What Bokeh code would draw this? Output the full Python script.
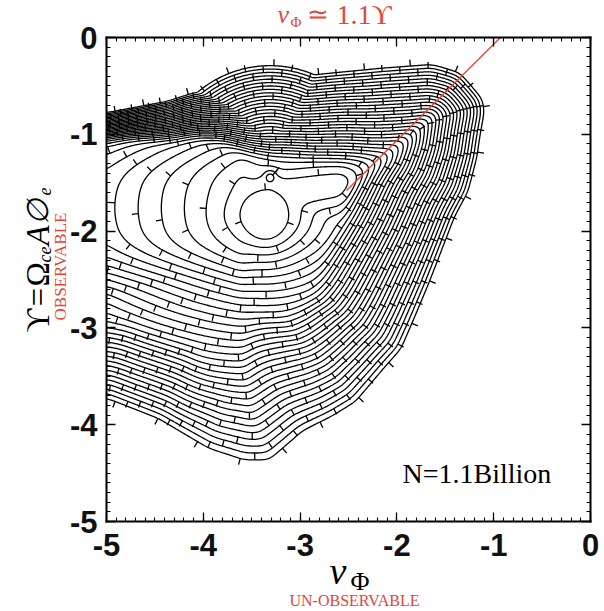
import numpy as np
import contourpy
from bokeh.plotting import figure
from bokeh.models import Range1d, Label, SingleIntervalTicker, LinearAxis
from bokeh.embed import file_html
from bokeh.resources import INLINE

# ---------------- values ----------------
# outermost contour of the distribution (nu_Phi, Upsilon)
edge_x = [-6.00, -5.00, -4.37, -4.13, -3.44, -2.76, -2.16, -1.63, -1.34, -1.21, -1.10, -1.08,
          -1.12, -1.16, -1.25, -1.39, -1.52, -1.65, -1.80, -1.94, -2.10, -2.41, -2.65,
          -2.96, -3.07, -3.31, -3.58, -3.96, -4.47, -5.00, -6.00]
edge_y = [-0.95, -0.77, -0.65, -0.57, -0.44, -0.36, -0.30, -0.26, -0.35, -0.50, -0.63, -0.77,
          -0.98, -1.25, -1.60, -1.86, -2.20, -2.54, -2.90, -3.23, -3.41, -3.78, -3.93,
          -4.09, -4.19, -4.40, -4.40, -4.27, -3.96, -3.75, -3.55]
# contour lines per unit just inside that edge
edge_k = [75, 75, 62, 52, 36, 32, 29, 28, 30, 30, 30, 30,
          30, 30, 28, 28, 27, 25, 24, 22, 21, 19, 18,
          16, 15, 14, 14, 16, 20, 21, 21]
# interior maxima (bean-shaped top contour and the small circle above it)
peak_x = [-3.36, -3.31]
peak_y = [-1.84, -1.45]
peak_hx = [0.19, 0.025]
peak_hy = [0.22, 0.025]
peak_top = [33.0, 32.9]
peak_sl = [0.15, 0.035]   # spacing of levels to the left
peak_sr = [0.12, 0.035]   # ... to the right
peak_su = [0.10, 0.035]   # ... upwards
peak_sd = [0.075, 0.035]  # ... downwards
# ridge running from the peak towards the upper right
ridge_x = [-3.25, -2.60]
ridge_y = [-1.62, -1.52]
ridge_top = [31.9, 31.75]
ridge_core = 0.12
ridge_w = 0.08
# shelf to the left of the peak (the tall "(" shaped contours)
shelf_x0, shelf_y, shelf_top = -3.60, -1.78, 32.0
shelf_dx = 0.24          # level spacing towards the left
shelf_dx_right = 0.30    # level spacing towards the right
shelf_half = 0.42        # half height of the flat part
shelf_up, shelf_down = 0.10, 0.065
n_levels = 33
# red reference line  nu_Phi ~ 1.1 Upsilon
red_x = [-2.52, -0.93]
red_y = [-1.58, 0.00]
x_ticks = [-5, -4, -3, -2, -1, 0]
y_ticks = [-5, -4, -3, -2, -1, 0]

RED = "#e5453a"
EX = np.array(edge_x, float)
EY = np.array(edge_y, float)
EK = np.array(edge_k, float)


def inside_poly(x, y):
    inside = np.zeros(x.shape, bool)
    n = len(EX)
    j = n - 1
    for i in range(n):
        xi, yi, xj, yj = EX[i], EY[i], EX[j], EY[j]
        cond = (yi > y) != (yj > y)
        den = (yj - yi) if yj != yi else 1e-12
        xint = (xj - xi) * (y - yi) / den + xi
        inside ^= cond & (x < xint)
        j = i
    return inside


def seg_geom(i, x, y):
    n = len(EX)
    j = (i + 1) % n
    ax, ay, bx, by = EX[i], EY[i], EX[j], EY[j]
    vx, vy = bx - ax, by - ay
    t = np.clip(((x - ax) * vx + (y - ay) * vy) / (vx * vx + vy * vy), 0, 1)
    d = np.hypot(x - (ax + t * vx), y - (ay + t * vy))
    k = EK[i] + t * (EK[j] - EK[i])
    return d, k


def edge_term(x, y):
    n = len(EX)
    dmin = np.full(x.shape, np.inf)
    for i in range(n):
        d, _ = seg_geom(i, x, y)
        dmin = np.minimum(dmin, d)
    ws = np.zeros(x.shape)
    wk = np.zeros(x.shape)
    for i in range(n):
        d, k = seg_geom(i, x, y)
        w = np.exp(-(d - dmin) / 0.08)
        ws += w
        wk += w * k
    kk = wk / ws
    sd = np.where(inside_poly(x, y), dmin, -dmin)
    return kk * sd


def softplus(v, s):
    return s * np.logaddexp(0.0, v / s)


def bump(i, x, y):
    dx = x - peak_x[i]
    dy = y - peak_y[i]
    q = np.hypot(dx / peak_hx[i], dy / peak_hy[i])
    f = np.where(q > 1, 1 - 1 / np.maximum(q, 1e-9), 0.0)
    ox = dx * f / np.where(dx < 0, peak_sl[i], peak_sr[i])
    oy = dy * f / np.where(dy > 0, peak_su[i], peak_sd[i])
    return peak_top[i] - np.hypot(ox, oy)


def interior(x, y):
    parts = [bump(i, x, y) for i in range(len(peak_x))]
    ax, ay, bx, by = ridge_x[0], ridge_y[0], ridge_x[1], ridge_y[1]
    vx, vy = bx - ax, by - ay
    L2 = vx * vx + vy * vy
    t = np.clip(((x - ax) * vx + (y - ay) * vy) / L2, 0, 1)
    dseg = np.hypot(x - (ax + t * vx), y - (ay + t * vy))
    h = ridge_top[0] + (ridge_top[1] - ridge_top[0]) * t
    parts.append(h - np.maximum(dseg - ridge_core, 0) / ridge_w)
    # shelf
    dy = y - shelf_y
    pen = softplus(np.abs(dy) - shelf_half, 0.1) / np.where(dy > 0, shelf_up, shelf_down)
    hs = (shelf_top - np.maximum(shelf_x0 - x, 0) / shelf_dx
          - np.maximum(x - shelf_x0, 0) / shelf_dx_right)
    parts.append(hs - pen)
    A = parts[0]
    for q in parts[1:]:
        A = 0.25 * np.logaddexp(A / 0.25, q / 0.25)
    return A


def field(x, y):
    A = interior(x, y)
    E = edge_term(x, y)
    return -0.4 * np.logaddexp(-A / 0.4, -E / 0.4)


def blur(Zin, sig):
    r = int(3 * sig)
    ker = np.exp(-0.5 * (np.arange(-r, r + 1) / sig) ** 2)
    ker /= ker.sum()
    Zp = np.pad(Zin, r, mode="edge")
    Z1 = np.apply_along_axis(lambda v: np.convolve(v, ker, mode="valid"), 1, Zp)
    return np.apply_along_axis(lambda v: np.convolve(v, ker, mode="valid"), 0, Z1)


# ---------------- contours ----------------
gx = np.linspace(-5.0, -0.6, 441)
gy = np.linspace(-5.0, 0.0, 501)
GX, GY = np.meshgrid(gx, gy)
Z = field(GX.ravel(), GY.ravel()).reshape(GX.shape)
Z = blur(Z, 5.0)
Zc = bump(1, GX, GY)                      # keep the small circle sharp
Z = 0.15 * np.logaddexp(Z / 0.15, Zc / 0.15)
levels = np.arange(n_levels) + 0.5
cg = contourpy.contour_generator(gx, gy, Z, line_type="Separate")

PXU = 96.8  # pixels per data unit
line_xs, line_ys = [], []
tk_px, tk_py, tk_nx, tk_ny = [], [], [], []
SP = 46.0
for li, lev in enumerate(levels):
    for seg in cg.lines(lev):
        if len(seg) < 2:
            continue
        sx, sy = seg[:, 0], seg[:, 1]
        line_xs.append(sx)
        line_ys.append(sy)
        dl = np.hypot(np.diff(sx), np.diff(sy)) * PXU
        cum = np.concatenate([[0], np.cumsum(dl)])
        if cum[-1] < SP:
            s = np.array([cum[-1] * 0.5])
        else:
            off = (li * 13.7 + 9) % SP
            s = np.arange(off, cum[-1], SP)
        if len(s) == 0:
            continue
        idx = np.clip(np.searchsorted(cum, s) - 1, 0, len(sx) - 2)
        px = np.interp(s, cum, sx)
        py = np.interp(s, cum, sy)
        tx = sx[idx + 1] - sx[idx]
        ty = sy[idx + 1] - sy[idx]
        nrm = np.hypot(tx, ty) + 1e-12
        tk_px.append(px)
        tk_py.append(py)
        tk_nx.append(-ty / nrm)
        tk_ny.append(tx / nrm)

tk_px = np.concatenate(tk_px)
tk_py = np.concatenate(tk_py)
tk_nx = np.concatenate(tk_nx)
tk_ny = np.concatenate(tk_ny)
eps = 0.01


def zlook(x, y):
    ix = np.clip(np.round((x - gx[0]) / (gx[1] - gx[0])).astype(int), 0, len(gx) - 1)
    iy = np.clip(np.round((y - gy[0]) / (gy[1] - gy[0])).astype(int), 0, len(gy) - 1)
    return Z[iy, ix]


fp = zlook(tk_px + eps * tk_nx, tk_py + eps * tk_ny)
fm = zlook(tk_px - eps * tk_nx, tk_py - eps * tk_ny)
sgn = np.where(fp < fm, 1.0, -1.0)
TL = 6.5 / PXU
ex_ = tk_px + sgn * TL * tk_nx
ey_ = tk_py + sgn * TL * tk_ny
keep = (ex_ > -5) & (ex_ < 0) & (ey_ > -5) & (ey_ < 0)
tick_xs = [[a, b] for a, b in zip(tk_px[keep], ex_[keep])]
tick_ys = [[a, b] for a, b in zip(tk_py[keep], ey_[keep])]

# ---------------- figure ----------------
# plot box occupies pixels x 106..590, y 37..521 of the 604 x 611 canvas
W, H = 604, 611
X0, Y0 = 106.0, 521.0
XL = -5 - X0 / PXU
XR = XL + W / PXU
YB = -5 - (H - Y0) / PXU
YT = YB + H / PXU

p = figure(width=W, height=H, x_range=Range1d(XL, XR), y_range=Range1d(YB, YT),
           output_backend="svg", toolbar_location=None,
           x_axis_location=None, y_axis_location=None,
           min_border=0, min_border_left=0, min_border_right=0,
           min_border_top=0, min_border_bottom=0)
p.grid.visible = False
p.outline_line_color = None
p.background_fill_color = "white"
p.border_fill_color = "white"

p.multi_line(xs=line_xs, ys=line_ys, line_color="black", line_width=1.3)
p.multi_line(xs=tick_xs, ys=tick_ys, line_color="black", line_width=1.3)
p.line(red_x, red_y, line_color=RED, line_width=1.4)


def make_axis(loc, labels):
    ax = LinearAxis(fixed_location=loc, bounds=(-5, 0))
    ax.ticker = SingleIntervalTicker(interval=1, num_minor_ticks=10)
    ax.axis_line_width = 2
    ax.axis_line_color = "black"
    ax.axis_line_cap = "square"
    ax.major_tick_in = 9
    ax.major_tick_out = 0
    ax.minor_tick_in = 4
    ax.minor_tick_out = 0
    ax.major_tick_line_width = 1.3
    ax.minor_tick_line_width = 1.1
    ax.major_tick_line_color = "black"
    ax.minor_tick_line_color = "black"
    if labels:
        ax.major_label_text_font = "Liberation Sans"
        ax.major_label_text_font_style = "bold"
        ax.major_label_text_font_size = "31px"
        ax.major_label_text_color = "#111111"
    else:
        ax.major_label_text_font_size = "0px"
        ax.major_label_text_alpha = 0
        ax.major_label_standoff = 0
    return ax


ax_b = make_axis(-5, True)
ax_b.major_label_overrides = {t: str(t) for t in x_ticks}
ax_b.major_label_standoff = 12
p.add_layout(ax_b, "below")
ax_l = make_axis(-5, True)
ax_l.major_label_overrides = {t: str(t) for t in y_ticks}
ax_l.major_label_standoff = 9
p.add_layout(ax_l, "left")
p.add_layout(make_axis(0, False), "above")
p.add_layout(make_axis(0, False), "right")


def add_text(px, py, text, size, color="black", style="normal", align="left",
             baseline="alphabetic", angle=0.0, font="Liberation Serif"):
    x = XL + px / PXU
    y = YT - py / PXU
    p.add_layout(Label(x=x, y=y, text=text, text_font=font, text_font_size=f"{size}px",
                       text_font_style=style, text_color=color, text_align=align,
                       text_baseline=baseline, angle=angle))


def add_line_text(px, base, text, size, color="black", style="normal", align="left"):
    # horizontal text placed by its baseline (drawn centred on its font box)
    add_text(px, base - 0.3375 * size, text, size, color, style, align, baseline="middle")


# title
add_line_text(277, 23, "ν", 26, RED, "italic")
add_line_text(290, 27, "Φ", 15, RED)
add_line_text(306, 23, "≃", 26, RED)
add_line_text(336, 23, "1.1ϒ", 28, RED)
# x label
add_line_text(329, 583, "ν", 38, "black", "italic")
add_line_text(350, 590, "Φ", 26, "black")
add_line_text(354, 605, "UN-OBSERVABLE", 16, RED, align="center")
# y label (rotated, reading upwards)
A90 = np.pi / 2
add_text(37, 332, "ϒ", 33, "black", angle=A90)
add_text(37, 306, "=", 33, "black", angle=A90)
add_text(37, 286, "Ω", 33, "black", angle=A90)
add_text(44, 262, "ce", 18, "black", "italic", angle=A90)
add_text(37, 245, "A", 33, "black", "italic", angle=A90)
add_text(37, 224, "∅", 30, "black", "italic", angle=A90)
add_text(44, 195, "e", 18, "black", "italic", angle=A90)
add_text(60, 266, "OBSERVABLE", 17, RED, align="center", angle=A90)
# sample size
add_line_text(402, 482, "N=1.1Billion", 28, "black")

open("out.html", "w").write(file_html(p, INLINE))
